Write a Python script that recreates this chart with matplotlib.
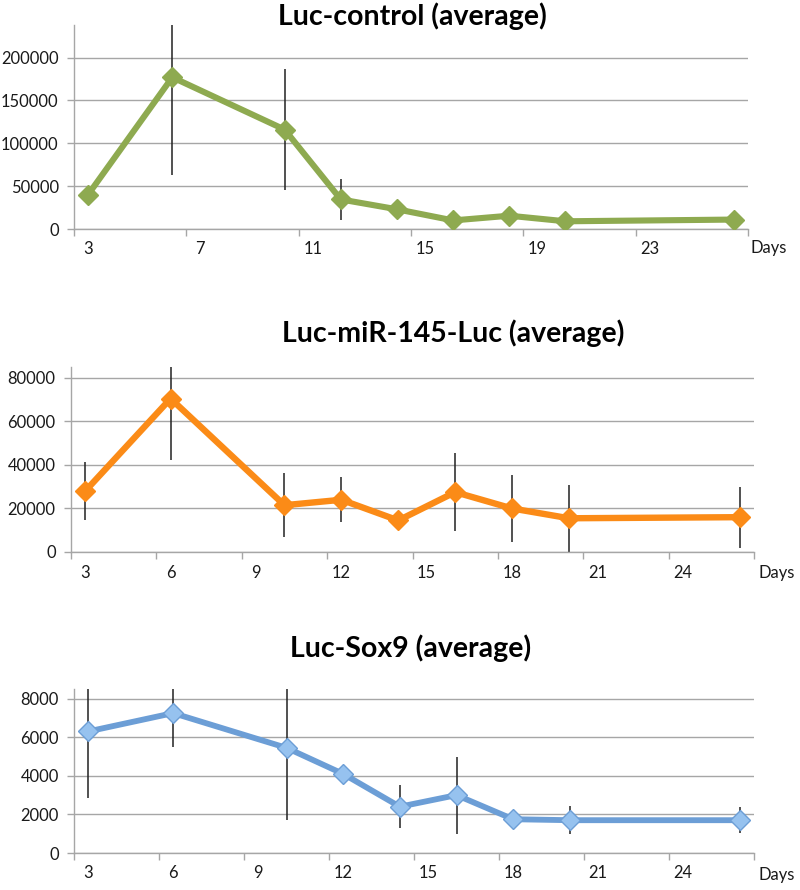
import matplotlib
matplotlib.use("Agg")
import matplotlib.pyplot as plt
import numpy as np

plt.rcParams['font.family'] = ['Lato', 'DejaVu Sans']

# ---- data ----
days = [3, 6, 10, 12, 14, 16, 18, 20, 26]

ctrl_vals = [40000, 177000, 116000, 34500, 23000, 10000, 15500, 9000, 11000]
ctrl_err = [5000, 114500, 71000, 24000, 3000, 2000, 10500, 1500, 2000]

mir_vals = [28000, 70500, 21500, 24000, 14500, 27500, 20000, 15500, 16000]
mir_err = [13500, 28000, 14700, 10300, 3000, 17800, 15300, 15500, 14000]

sox_vals = [6300, 7250, 5450, 4100, 2400, 3000, 1750, 1700, 1700]
sox_err = [3470, 1740, 3750, 300, 1100, 2000, 300, 730, 660]

titles = ["Luc-control (average)", "Luc-miR-145-Luc (average)", "Luc-Sox9 (average)"]

ctrl_yticks = [0, 50000, 100000, 150000, 200000]
mir_yticks = [0, 20000, 40000, 60000, 80000]
sox_yticks = [0, 2000, 4000, 6000, 8000]

ctrl_xlabels = [3, 7, 11, 15, 19, 23]
mir_xlabels = [3, 6, 9, 12, 15, 18, 21, 24]
sox_xlabels = [3, 6, 9, 12, 15, 18, 21, 24]

# ---- figure ----
W, H = 800, 890
fig = plt.figure(figsize=(W / 100, H / 100), dpi=100)

def ax_rect(l, r, t, b):
    return [l / W, 1 - b / H, (r - l) / W, (b - t) / H]

grid_c = '#a6a6a6'
txt_c = '#1a1a1a'
fs = 11.9

panels = [
    dict(rect=ax_rect(74, 748, 25, 229), vals=ctrl_vals, err=ctrl_err, ymax=238000,
         yticks=ctrl_yticks, xlabels=ctrl_xlabels, step=4,
         color='#8eaa50', mface='#8eaa50', medge='#8eaa50', lw=4.4, ms=10.5,
         title=titles[0], tx=412, ty=16, days_xy=(751, 248)),
    dict(rect=ax_rect(71, 754, 367, 552), vals=mir_vals, err=mir_err, ymax=85000,
         yticks=mir_yticks, xlabels=mir_xlabels, step=3,
         color='#fb8b17', mface='#fb8b17', medge='#fb8b17', lw=4.6, ms=10.5,
         title=titles[1], tx=453, ty=333, days_xy=(758, 573)),
    dict(rect=ax_rect(74, 754, 689, 853), vals=sox_vals, err=sox_err, ymax=8500,
         yticks=sox_yticks, xlabels=sox_xlabels, step=3,
         color='#6c9ed6', mface='#96c2ef', medge='#6c9ed6', lw=4.2, ms=10.5,
         title=titles[2], tx=411, ty=648, days_xy=(758, 875)),
]

for p in panels:
    ax = fig.add_axes(p['rect'])
    ax.errorbar(days, p['vals'], yerr=p['err'], fmt='none', ecolor='#222222',
                elinewidth=1.1, capsize=0, zorder=2)
    ax.plot(days, p['vals'], color=p['color'], lw=p['lw'], marker='D',
            markersize=p['ms'], markerfacecolor=p['mface'],
            markeredgecolor=p['medge'], markeredgewidth=1.0, zorder=3,
            solid_joinstyle='miter')
    ax.set_xlim(2.5, 26.5)
    ax.set_ylim(0, p['ymax'])
    ax.set_yticks(p['yticks'])
    ax.set_yticklabels([str(v) for v in p['yticks']])
    major = np.arange(2.5, 26.5 + 0.01, p['step'])
    ax.set_xticks(major)
    ax.set_xticklabels([])
    ax.set_xticks(p['xlabels'], minor=True)
    ax.set_xticklabels([str(v) for v in p['xlabels']], minor=True)
    ax.tick_params(axis='x', which='major', length=5, width=1, color=grid_c, direction='out')
    ax.tick_params(axis='x', which='minor', length=0, pad=9, labelsize=fs, labelcolor=txt_c)
    ax.tick_params(axis='y', length=5, width=1, color=grid_c, direction='out',
                   pad=6, labelsize=fs, labelcolor=txt_c)
    ax.grid(axis='y', color=grid_c, lw=1.0, zorder=0)
    ax.set_axisbelow(True)
    for s in ['top', 'right']:
        ax.spines[s].set_visible(False)
    for s in ['left', 'bottom']:
        ax.spines[s].set_color(grid_c)
        ax.spines[s].set_linewidth(1.0)
    fig.text(p['tx'] / W, 1 - p['ty'] / H, p['title'], ha='center', va='center',
             fontsize=20.5, fontweight='bold', color='#000000')
    fig.text(p['days_xy'][0] / W, 1 - p['days_xy'][1] / H, 'Days', ha='left',
             va='center', fontsize=fs, color=txt_c)

fig.savefig('out.png', dpi=100)
